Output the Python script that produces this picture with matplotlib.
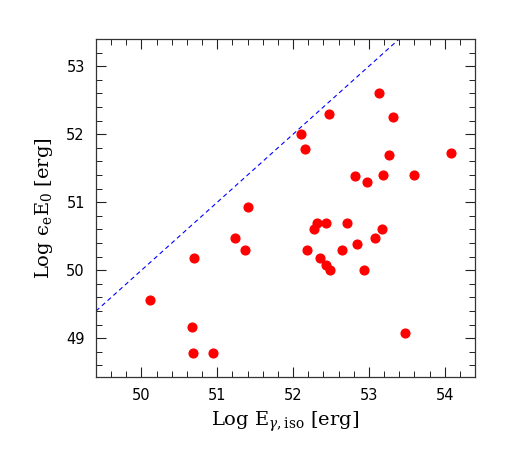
import matplotlib
matplotlib.use("Agg")
import matplotlib.pyplot as plt
from matplotlib.ticker import MultipleLocator
import numpy as np

log_e_iso = [53.14, 52.47, 53.32, 52.10, 52.16, 53.27, 54.08, 52.82, 52.98, 53.19,
             53.60, 51.40, 51.24, 51.36, 50.69, 50.11, 50.67, 50.68, 50.95, 52.31,
             52.43, 52.71, 52.28, 53.17, 53.08, 52.84, 52.18, 52.65, 52.36, 52.43,
             52.49, 52.94, 53.47]
log_ee_e0 = [52.60, 52.30, 52.25, 52.00, 51.78, 51.70, 51.72, 51.38, 51.30, 51.40,
             51.40, 50.93, 50.48, 50.30, 50.18, 49.56, 49.16, 48.79, 48.79, 50.70,
             50.70, 50.70, 50.60, 50.60, 50.48, 50.38, 50.30, 50.30, 50.18, 50.08,
             50.00, 50.00, 49.08]
equality_line = [49.4, 54.4]

plt.rcParams['mathtext.fontset'] = 'dejavuserif'
fig = plt.figure(figsize=(5.18, 4.63), dpi=100)
ax = fig.add_axes([96/518, 86/463, 379/518, 338/463])

ax.plot(equality_line, equality_line, color='blue', ls=(0, (4, 3)), lw=0.8)
ax.plot(log_e_iso, log_ee_e0, 'o', color='red', ms=6.3, mec='red', ls='none')

ax.set_xlim(49.4, 54.4)
ax.set_ylim(48.43, 53.4)
ax.xaxis.set_major_locator(MultipleLocator(1))
ax.xaxis.set_minor_locator(MultipleLocator(0.2))
ax.yaxis.set_major_locator(MultipleLocator(1))
ax.yaxis.set_minor_locator(MultipleLocator(0.2))
ax.tick_params(which='both', direction='in', top=True, right=True, labelsize=10.5,
               color='#222222')
ax.tick_params(which='major', length=7.5, width=0.8)
ax.tick_params(which='minor', length=4, width=0.7)
for s in ax.spines.values():
    s.set_linewidth(0.9)
    s.set_color('#333333')
ax.tick_params(axis='x', pad=8)
ax.tick_params(axis='y', pad=8)

ax.set_xlabel(r'Log E$_{\gamma,\rm iso}$ [erg]', family='DejaVu Serif', fontsize=14, labelpad=5)
ax.set_ylabel('Log \u03f5$_{\\rm e}$E$_0$ [erg]', family='DejaVu Serif', fontsize=14, labelpad=8)

fig.savefig('out.png', dpi=100)
